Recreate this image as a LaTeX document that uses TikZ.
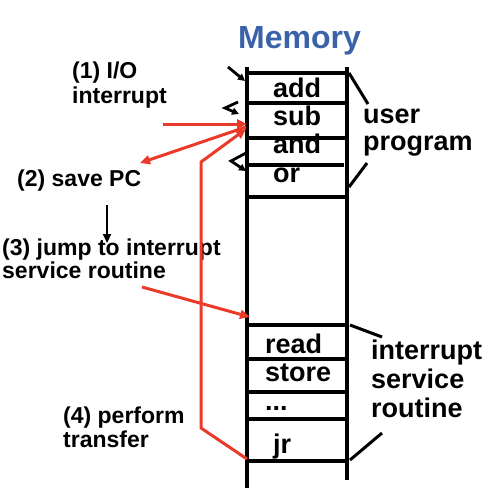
\documentclass[tikz,border=0pt]{standalone}
\usepackage{fontspec}
\setmainfont{Liberation Sans}
\usetikzlibrary{arrows.meta}
\definecolor{myred}{RGB}{234,58,42}
\definecolor{myblue}{RGB}{58,98,168}
\begin{document}
\begin{tikzpicture}[x=1pt,y=-1pt,
  lbl/.style={inner sep=0pt, anchor=base west, font=\fontsize{23}{25}\selectfont\bfseries},
  big/.style={inner sep=0pt, anchor=base west, font=\fontsize{27}{29}\selectfont\bfseries},
  memline/.style={line width=3.2pt, black},
  brk/.style={line width=3pt, black},
  redarr/.style={line width=3pt, myred, line join=miter, -{Triangle[length=10pt,width=9pt]}},
  blkarr/.style={line width=2.8pt, black, -{Triangle[length=9pt,width=8pt]}},
  smallarr/.style={line width=2.8pt, black, -{Triangle[length=7pt,width=7pt]}},
]
\useasboundingbox (0,0) rectangle (498,488);

% title
\node[inner sep=0pt, anchor=base west, font=\fontsize{32}{34}\selectfont\bfseries, text=myblue] (title) at (238,48) {Memory};

% memory column
\draw[memline] (247,67) -- (247,488);
\draw[memline] (347,67) -- (347,480);
\foreach \yy in {73,103,138,197,325,359,392,419,461}
  \draw[memline] (247,\yy) -- (347,\yy);
\draw[memline] (247,165) -- (344,165);

% memory contents
\node[big] (add) at (273,97) {add};
\node[big] (sub) at (273,125) {sub};
\node[big] (and) at (273,153) {and};
\node[big] (or) at (273,182) {or};
\node[big] (read) at (265,353) {read};
\node[big] (store) at (265,381) {store};
\node[big] (dots) at (265,410) {...};
\node[big] (jr) at (273,453) {jr};

% right labels
\node[big] (u1) at (363,123) {user};
\node[big] (u2) at (363,150) {program};
\node[big] (i1) at (371,359) {interrupt};
\node[big] (i2) at (371,388) {service};
\node[big] (i3) at (371,417) {routine};

% brackets
\draw[brk] (349,73) -- (368,104);
\draw[brk] (367,163) -- (349,187);
\draw[brk] (350,325) -- (382,337);
\draw[brk] (382,433) -- (350,460);

% left labels
\node[lbl] (t1a) at (72,78) {(1) I/O};
\node[lbl] (t1b) at (72,103) {interrupt};
\node[lbl] (t2) at (17,186) {(2) save PC};
\node[lbl] (t3a) at (2,255) {(3) jump to interrupt};
\node[lbl] (t3b) at (2,278) {service routine};
\node[lbl] (t4a) at (63,423) {(4) perform};
\node[lbl] (t4b) at (63,447) {transfer};

% coordinates
\coordinate (r1s) at (163,124);
\coordinate (r1e) at (247,124);
\coordinate (r2s) at (246,127);
\coordinate (r2e) at (140,163);
\coordinate (r3s) at (142,287);
\coordinate (r3e) at (250,317);
\coordinate (r4s) at (247,459);
\coordinate (r4a) at (201,428);
\coordinate (r4b) at (201,162);
\coordinate (r4e) at (246,129);
\coordinate (b1s) at (107,205);
\coordinate (b1e) at (107,243);

% red arrows
\draw[redarr] (r1s) -- (r1e);
\draw[redarr] (r2s) -- (r2e);
\draw[redarr] (r3s) -- (r3e);
\draw[redarr] (r4s) -- (r4a) -- (r4b) -- (r4e);

% black arrow
\draw[blkarr] (b1s) -- (b1e);

% small black arrows on the column
\coordinate (s1s) at (228,67);
\coordinate (s1e) at (245,81);
\coordinate (s2s) at (238,102);
\coordinate (s2m) at (225,108);
\coordinate (s2e) at (239,114);
\coordinate (s3s) at (246,153);
\coordinate (s3m) at (231,161);
\coordinate (s3e) at (246,171);
\draw[smallarr] (s1s) -- (s1e);
\draw[smallarr] (s2s) -- (s2m) -- (s2e);
\draw[smallarr] (s3s) -- (s3m) -- (s3e);
\end{tikzpicture}
\end{document}
